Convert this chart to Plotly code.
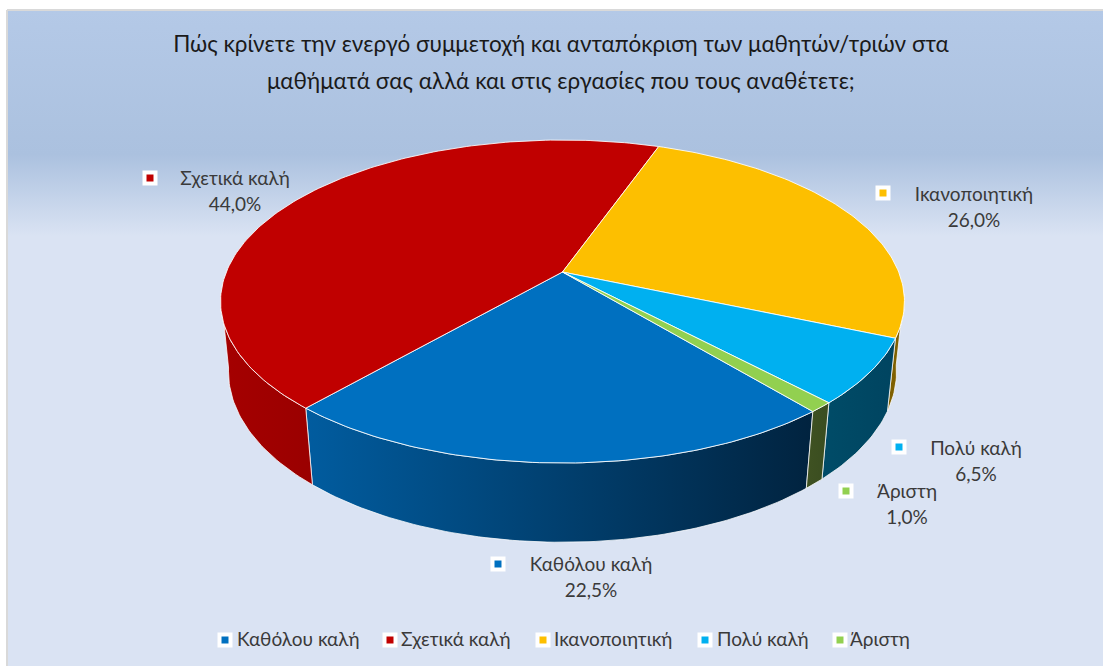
import math
import plotly.graph_objects as go

# ---- data ----
CATEGORIES = ["Καθόλου καλή", "Σχετικά καλή", "Ικανοποιητική", "Πολύ καλή", "Άριστη"]
VALUES = [22.5, 44.0, 26.0, 6.5, 1.0]
COLORS = ["#0070c0", "#c00000", "#fdbf00", "#00b0f0", "#92d050"]
SIDE_LEFT = ["#015c9f", "#a50000", "#7f6000", "#004c68", "#3f5222"]
SIDE_RIGHT = ["#01233f", "#9a0000", "#7f6000", "#004460", "#3a4d20"]
TITLE_LINES = ["Πώς κρίνετε την ενεργό συμμετοχή και ανταπόκριση των μαθητών/τριών στα",
               "μαθήματά σας αλλά και στις εργασίες που τους αναθέτετε;"]

# ---- layout of the drawing (pixels) ----
W, H = 1103, 666
CX, CY = 562.5, 272.0
A, B, K = 336.2, 156.1, 0.1827      # perspective disc
E, D = 0.023, 71.0                  # extrusion of the lower rim
BLUE_START = 140.2                  # clockwise from the back of the pie
VIS = (98.0, 262.0)                 # visible part of the side wall
FONT = "Lato, Carlito, 'Open Sans', sans-serif"
TEXT = "#3a3a3a"
TITLE_COLOR = "#1a1a1a"
LABEL_CENTERS = [(591, 566), (235, 180), (974, 196), (976, 450), (907, 493)]
LABEL_KEYS = [(498, 564), (150, 178), (883, 193), (899, 447), (846, 491)]
LINE_GAP = 26
LEGEND_KEYS = [225, 390, 543, 705, 840]
LEGEND_TEXT = [237, 401, 554, 717, 850]
LEGEND_Y = 640
LEGEND_TEXT_Y = 641


def top(a):
    r = math.radians(a)
    x, y = math.sin(r), -math.cos(r)
    w = 1 - K * y
    return CX + A * x / w, CY + B * y / w


def bottom(a):
    r = math.radians(a)
    x, y = math.sin(r), -math.cos(r)
    w = 1 - K * y + E
    return CX + A * x / w, CY + (B * y + D) / w


def arc(fn, a0, a1, step=1.0):
    n = max(2, int(abs(a1 - a0) / step) + 1)
    return [fn(a0 + (a1 - a0) * i / (n - 1)) for i in range(n)]


fig = go.Figure()

# Frame with vertical gradient background
fig.add_trace(go.Scatter(
    x=[7, W + 5, W + 5, 7, 7], y=[10, 10, H + 5, H + 5, 10], mode="lines",
    line=dict(color="#d9d9d9", width=2), fill="toself",
    fillgradient=dict(type="vertical", start=10, stop=666,
                      colorscale=[[0, "#b4c9e7"], [0.22, "#abc1df"],
                                  [0.345, "#dae3f3"], [1, "#dae3f3"]]),
    hoverinfo="skip", showlegend=False))

# Angles of slices
angles = []
a = BLUE_START
for v in VALUES:
    angles.append((a, a + v * 3.6))
    a += v * 3.6


def vis_ranges(a0, a1):
    out = []
    for shift in (0, -360):
        lo, hi = max(a0 + shift, VIS[0]), min(a1 + shift, VIS[1])
        if hi > lo:
            out.append((lo, hi))
    return out


# Side walls
for i, (a0, a1) in enumerate(angles):
    for lo, hi in vis_ranges(a0, a1):
        t = arc(top, lo, hi)
        b = arc(bottom, hi, lo)
        pts = t + b + [t[0]]
        xs = [p[0] for p in pts]
        ys = [p[1] for p in pts]
        fig.add_trace(go.Scatter(
            x=xs, y=ys, mode="lines", line=dict(color="rgba(255,255,255,0.75)", width=1),
            fill="toself",
            fillgradient=dict(type="horizontal", start=min(xs), stop=max(xs),
                              colorscale=[[0, SIDE_LEFT[i]], [1, SIDE_RIGHT[i]]]),
            hoverinfo="skip", showlegend=False))

# Top face
for i, (a0, a1) in enumerate(angles):
    pts = [(CX, CY)] + arc(top, a0, a1) + [(CX, CY)]
    fig.add_trace(go.Scatter(
        x=[p[0] for p in pts], y=[p[1] for p in pts], mode="lines",
        line=dict(color="rgba(255,255,255,0.85)", width=1), fill="toself",
        fillcolor=COLORS[i], name=CATEGORIES[i], text=f"{VALUES[i]:.1f}%",
        hoverinfo="name+text", showlegend=False))

# Data labels
pct = [f"{v:.1f}".replace(".", ",") + "%" for v in VALUES]
fig.add_trace(go.Scatter(
    x=[p[0] for p in LABEL_CENTERS] + [p[0] for p in LABEL_CENTERS],
    y=[p[1] for p in LABEL_CENTERS] + [p[1] + LINE_GAP for p in LABEL_CENTERS],
    mode="text", text=CATEGORIES + pct, textposition="middle center",
    textfont=dict(family=FONT, size=19, color=TEXT), hoverinfo="skip", showlegend=False))

# Label keys and legend keys
kx = [p[0] for p in LABEL_KEYS]
ky = [p[1] for p in LABEL_KEYS]
fig.add_trace(go.Scatter(x=kx, y=ky, mode="markers", hoverinfo="skip", showlegend=False,
                         marker=dict(symbol="square", size=15, color="white")))
fig.add_trace(go.Scatter(x=kx, y=ky, mode="markers", hoverinfo="skip", showlegend=False,
                         marker=dict(symbol="square", size=7, color=COLORS)))
fig.add_trace(go.Scatter(x=LEGEND_KEYS, y=[LEGEND_Y] * 5, mode="markers", hoverinfo="skip", showlegend=False,
                         marker=dict(symbol="square", size=15, color="white")))
fig.add_trace(go.Scatter(x=LEGEND_KEYS, y=[LEGEND_Y] * 5, mode="markers", hoverinfo="skip", showlegend=False,
                         marker=dict(symbol="square", size=7, color=COLORS)))
fig.add_trace(go.Scatter(x=LEGEND_TEXT, y=[LEGEND_TEXT_Y] * 5, mode="text", text=CATEGORIES,
                         textposition="middle right", hoverinfo="skip", showlegend=False,
                         textfont=dict(family=FONT, size=19, color=TEXT)))

fig.update_layout(
    width=W, height=H, margin=dict(l=0, r=0, t=0, b=0),
    paper_bgcolor="white", plot_bgcolor="rgba(0,0,0,0)", showlegend=False,
    xaxis=dict(range=[0, W], visible=False, fixedrange=True),
    yaxis=dict(range=[H, 0], visible=False, fixedrange=True),
    title=dict(text=TITLE_LINES[0], x=561 / W, xanchor="center", y=1 - 44 / H, yanchor="middle",
               font=dict(family=FONT, size=22.5, color=TITLE_COLOR)),
    annotations=[dict(text=TITLE_LINES[1], x=561, y=80, xref="x", yref="y", showarrow=False,
                      xanchor="center", yanchor="middle",
                      font=dict(family=FONT, size=22.5, color=TITLE_COLOR))],
)
fig.write_html("out.html", config={"displayModeBar": False},
               post_script="document.body.style.margin='0';")
